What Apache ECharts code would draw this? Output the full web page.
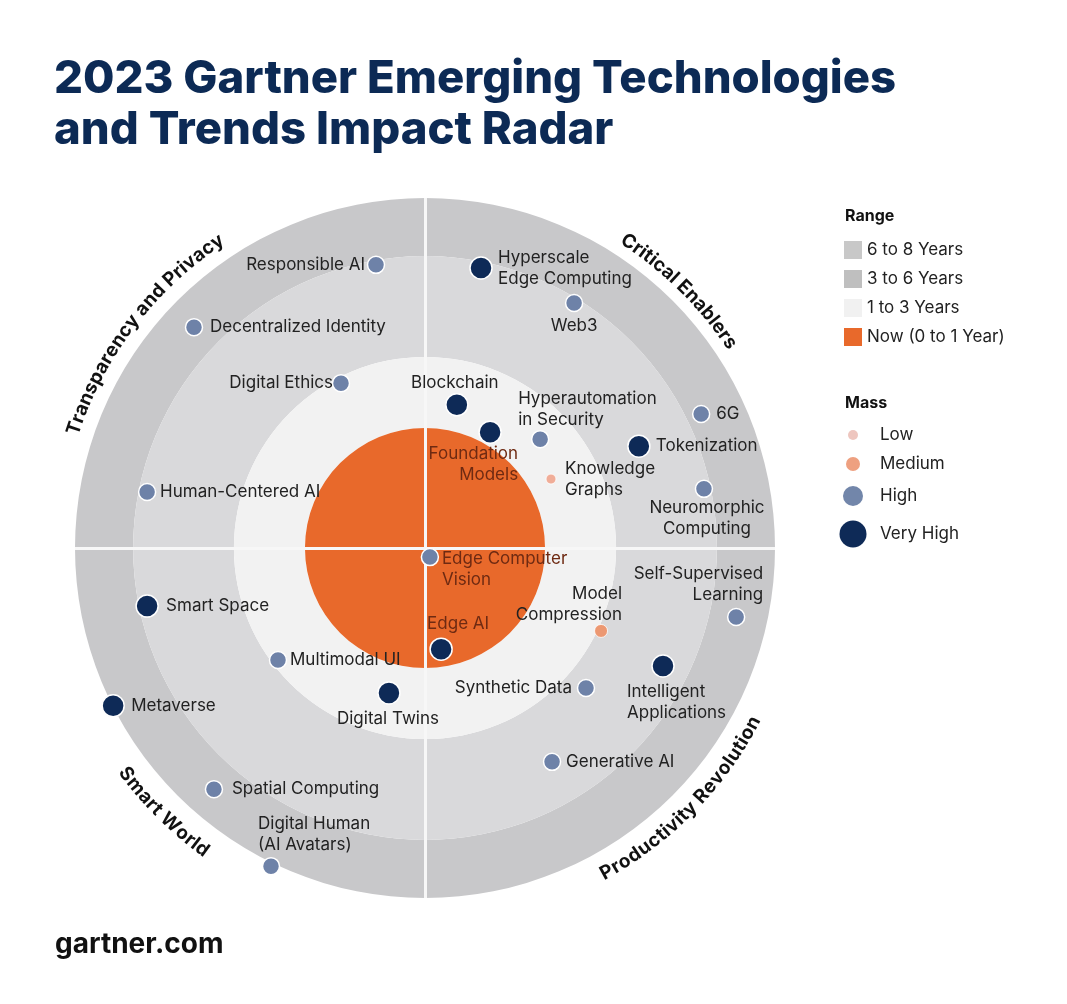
<!DOCTYPE html>
<html>
<head>
<meta charset="utf-8">
<script src="https://cdn.jsdelivr.net/npm/echarts@6/dist/echarts.min.js"></script>
<style>html,body{margin:0;padding:0;background:#fff}#c{width:1067px;height:1004px}</style>
</head>
<body>
<div id="c"></div>
<script>
// ---------------- DATA ----------------
const rangeNames = ['6 to 8 Years', '3 to 6 Years', '1 to 3 Years', 'Now (0 to 1 Year)'];
const rangeInner = [83.4, 54.6, 34.3, 0];
const rangeOuter = [100, 83.4, 54.6, 34.3];

const massLevels = ['Low', 'Medium', 'High', 'Very High'];

const quadrantNames = ['Critical Enablers', 'Transparency and Privacy', 'Smart World', 'Productivity Revolution'];

const techNames = [
  'Responsible AI', 'Decentralized Identity', 'Digital Ethics', 'Human-Centered AI',
  'Hyperscale\nEdge Computing', 'Web3', 'Blockchain', 'Foundation\nModels',
  'Hyperautomation\nin Security', 'Knowledge\nGraphs', '6G', 'Tokenization',
  'Neuromorphic\nComputing', 'Edge Computer\nVision', 'Self-Supervised\nLearning', 'Model\nCompression',
  'Edge AI', 'Intelligent\nApplications', 'Synthetic Data', 'Generative AI',
  'Smart Space', 'Multimodal UI', 'Digital Twins', 'Metaverse',
  'Spatial Computing', 'Digital Human\n(AI Avatars)'
];
const techX = [-14.0, -66.0, -24.0, -79.4, 16.0, 42.6, 9.1, 18.6, 32.9, 36.0, 78.9, 61.1, 79.7, 1.4, 88.9, 50.3, 4.6, 68.0, 46.0, 36.3, -79.4, -42.0, -10.3, -89.1, -60.3, -44.0];
const techY = [80.9, 63.1, 47.1, 16.0, 80.0, 70.0, 40.9, 33.1, 31.1, 19.7, 38.3, 29.1, 16.9, -2.6, -19.7, -23.7, -28.9, -33.7, -40.0, -61.1, -16.6, -32.0, -41.4, -45.1, -68.9, -90.9];
const techMass = [
  'High', 'High', 'High', 'High',
  'Very High', 'High', 'Very High', 'Very High',
  'High', 'Low', 'High', 'Very High',
  'High', 'High', 'High', 'Medium',
  'Very High', 'Very High', 'High', 'High',
  'Very High', 'High', 'Very High', 'Very High',
  'High', 'High'
];

// ---------------- STYLE / LAYOUT ----------------
const GRID = {left: 75, top: 198, width: 700, height: 700};
const CX = GRID.left + GRID.width / 2, CY = GRID.top + GRID.height / 2, RPX = GRID.width / 2;
const ringColors = ['#c8c8ca', '#d9d9db', '#f2f2f2', '#e8692b'];
const massSize = [10, 13, 17, 22];
const massColor = ['#f0ad98', '#ec9872', '#6e82a8', '#0e2a57'];
const legendMassSize = [10, 14, 20, 27];
const legendMassColor = ['#eec6bf', '#eea080', '#7286aa', '#0e2a57'];
const FONT = 'Inter';
const onOrange = '#6e2a12';

// label placement: [dx, dy, align, colour]
const labelLayout = {
  'Responsible AI': [-11, 0, 'right'],
  'Decentralized Identity': [16, 0, 'left'],
  'Digital Ethics': [-8, 0, 'right'],
  'Human-Centered AI': [13, 0, 'left'],
  'Hyperscale\nEdge Computing': [17, 0, 'left'],
  'Web3': [0, 23, 'center'],
  'Blockchain': [-2, -22, 'center'],
  'Foundation\nModels': [28, 32, 'right', onOrange],
  'Hyperautomation\nin Security': [-22, -30, 'left'],
  'Knowledge\nGraphs': [14, 0, 'left'],
  '6G': [15, 0, 'left'],
  'Tokenization': [17, 0, 'left'],
  'Neuromorphic\nComputing': [3, 30, 'center'],
  'Edge Computer\nVision': [12, 12, 'left', onOrange],
  'Self-Supervised\nLearning': [27, -33, 'right'],
  'Model\nCompression': [21, -27, 'right'],
  'Edge AI': [-14, -25, 'left', onOrange],
  'Intelligent\nApplications': [-36, 36, 'left'],
  'Synthetic Data': [-14, 0, 'right'],
  'Generative AI': [14, 0, 'left'],
  'Smart Space': [19, 0, 'left'],
  'Multimodal UI': [12, 0, 'left'],
  'Digital Twins': [-1, 26, 'center'],
  'Metaverse': [18, 0, 'left'],
  'Spatial Computing': [18, 0, 'left'],
  'Digital Human\n(AI Avatars)': [-13, -32, 'left']
};

// curved quadrant label placement: [centre angle (deg), radius factor, on top?]
const quadrantLayout = [[45.3, 1.05, true], [142.7, 1.058, true], [225.3, 1.07, false], [-44.4, 1.062, false]];

// ---------------- BUILD ----------------
const chart = echarts.init(document.getElementById('c'));

function renderRing(params, api) {
  const c = api.coord([0, 0]);
  const r0 = api.size([api.value(0), 0])[0];
  const r = api.size([api.value(1), 0])[0];
  return {
    type: 'ring',
    shape: {cx: c[0], cy: c[1], r: r, r0: r0},
    style: {fill: api.visual('color')}
  };
}

const ringSeries = rangeNames.map((n, i) => ({
  type: 'custom',
  name: n,
  coordinateSystem: 'cartesian2d',
  renderItem: renderRing,
  itemStyle: {color: ringColors[i]},
  data: [[rangeInner[i], rangeOuter[i]]],
  silent: true,
  z: 1,
  markLine: i === rangeNames.length - 1 ? {
    silent: true,
    symbol: 'none',
    z: 2,
    label: {show: false},
    lineStyle: {color: '#f7f7f7', width: 3, type: 'solid'},
    data: [
      [{coord: [0, -100]}, {coord: [0, 100]}],
      [{coord: [-100, 0]}, {coord: [100, 0]}]
    ]
  } : undefined
}));

const scatterSeries = massLevels.map((m, k) => ({
  type: 'scatter',
  name: m,
  z: 5,
  symbolSize: massSize[k],
  itemStyle: {color: massColor[k], borderColor: '#ffffff', borderWidth: k >= 2 ? 1.5 : 0.8, opacity: 1},
  label: {
    show: true,
    position: 'inside',
    formatter: p => p.name,
    fontFamily: FONT,
    fontSize: 17,
    lineHeight: 21,
    color: '#222'
  },
  emphasis: {disabled: true},
  silent: true,
  data: techNames.map((n, i) => {
    if (techMass[i] !== m) return null;
    const L = labelLayout[n];
    return {
      name: n,
      value: [techX[i], techY[i]],
      label: {offset: [L[0], L[1]], align: L[2], verticalAlign: 'middle', color: L[3] || '#222'}
    };
  }).filter(Boolean)
}));

// curved text
const measureCtx = document.createElement('canvas').getContext('2d');
const ARC_SIZE = 19;
const ARC_SPACING = 1.03;
function arcText(str, angleDeg, radius, top) {
  measureCtx.font = 'bold ' + ARC_SIZE + 'px ' + FONT;
  const chars = Array.from(str);
  const widths = chars.map(ch => measureCtx.measureText(ch).width * ARC_SPACING);
  const W = widths.reduce((a, b) => a + b, 0);
  const th0 = angleDeg * Math.PI / 180;
  let cum = 0;
  return chars.map((ch, i) => {
    const s = (cum + widths[i] / 2 - W / 2) / radius;
    cum += widths[i];
    const th = top ? th0 - s : th0 + s;
    return {
      type: 'text',
      x: CX + radius * Math.cos(th),
      y: CY - radius * Math.sin(th),
      rotation: top ? th - Math.PI / 2 : th + Math.PI / 2,
      silent: true,
      style: {
        text: ch, fill: '#111', fontSize: ARC_SIZE, fontWeight: 'bold', fontFamily: FONT,
        align: 'center', verticalAlign: 'middle'
      }
    };
  });
}
let graphics = [];
quadrantNames.forEach((q, i) => {
  const L = quadrantLayout[i];
  graphics = graphics.concat(arcText(q, L[0], RPX * L[1], L[2]));
});

const massCenterY = [435, 464, 496, 534];
const MASS_CX = 853, MASS_TEXT_X = 880, LEG_LH = 18;
const massLegends = massLevels.map((m, k) => {
  const s = legendMassSize[k];
  return {
    data: [{name: m, itemStyle: {color: legendMassColor[k], borderWidth: 0}}],
    left: MASS_CX - s / 2,
    top: massCenterY[k] - Math.max(s, LEG_LH) / 2,
    padding: 0,
    itemWidth: s,
    itemHeight: s,
    icon: 'circle',
    selectedMode: false,
    textStyle: {fontFamily: FONT, fontSize: 17, color: '#222', lineHeight: LEG_LH,
      padding: [0, 0, 0, Math.max(0, MASS_TEXT_X - (MASS_CX + s / 2 + 5))]}
  };
});

const option = {
  backgroundColor: '#ffffff',
  animation: false,
  title: [
    {text: '2023 Gartner Emerging Technologies\nand Trends Impact Radar', left: 54, top: 54, padding: 0,
      textStyle: {fontFamily: FONT, fontWeight: 800, fontSize: 45.5, lineHeight: 51, color: '#0c2a55'}},
    {text: 'Range', left: 845, top: 206, padding: 0,
      textStyle: {fontFamily: FONT, fontWeight: 'bold', fontSize: 16, lineHeight: 20, color: '#111'}},
    {text: 'Mass', left: 845, top: 393, padding: 0,
      textStyle: {fontFamily: FONT, fontWeight: 'bold', fontSize: 16, lineHeight: 20, color: '#111'}},
    {text: 'gartner.com', left: 55, top: 928, padding: 0,
      textStyle: {fontFamily: FONT, fontWeight: 'bold', fontSize: 28, lineHeight: 34, color: '#111'}}
  ],
  legend: [{
    data: rangeNames.map((n, i) => ({name: n, itemStyle: {color: ['#c8c8c8', '#bfbfbf', '#f1f1f1', '#e8692b'][i]}})),
    orient: 'vertical',
    left: 844, top: 241, padding: 0,
    itemWidth: 18, itemHeight: 18, itemGap: 11,
    icon: 'rect',
    selectedMode: false,
    textStyle: {fontFamily: FONT, fontSize: 17, color: '#222', lineHeight: 18}
  }].concat(massLegends),
  grid: {left: GRID.left, top: GRID.top, width: GRID.width, height: GRID.height},
  xAxis: {type: 'value', min: -100, max: 100, show: false},
  yAxis: {type: 'value', min: -100, max: 100, show: false},
  graphic: graphics,
  series: ringSeries.concat(scatterSeries)
};
chart.setOption(option);
</script>
</body>
</html>
